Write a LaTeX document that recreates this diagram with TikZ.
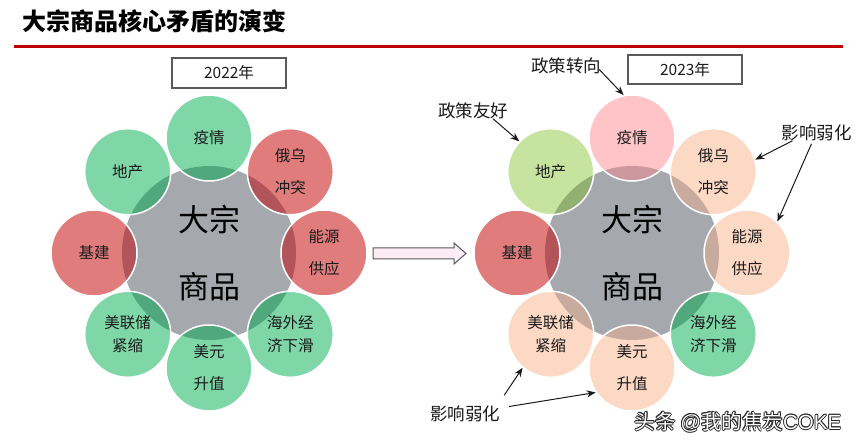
\documentclass[tikz,border=0pt]{standalone}
\usepackage{fontspec}
\newfontfamily\cjk{Noto Sans CJK SC}
\newfontfamily\lib{Liberation Sans}
\usetikzlibrary{calc,arrows.meta}
\definecolor{gA}{RGB}{127,215,168}
\definecolor{gB}{RGB}{80,168,124}
\definecolor{rA}{RGB}{224,124,124}
\definecolor{rB}{RGB}{178,84,90}
\definecolor{pA}{RGB}{252,217,196}
\definecolor{pB}{RGB}{200,170,158}
\definecolor{kA}{RGB}{255,196,200}
\definecolor{kB}{RGB}{204,152,158}
\definecolor{lA}{RGB}{198,228,160}
\definecolor{lB}{RGB}{146,176,114}
\definecolor{corecol}{RGB}{165,168,173}
\definecolor{txt}{RGB}{26,26,26}
\definecolor{boxline}{RGB}{90,90,90}
\definecolor{titlered}{RGB}{192,0,0}
\definecolor{arrowfill}{RGB}{252,236,246}
\begin{document}
\begin{tikzpicture}[x=1pt,y=-1pt,
  bubble/.style n args={3}{circle, minimum size=86pt, inner sep=0pt, draw=white, line width=1.5pt, fill=#1,
     path picture={\fill[#2] (#3) circle[radius=87pt];},
     font=\cjk\fontsize{15.5pt}{18pt}\selectfont, text=txt, align=center},
  corebox/.style={circle, fill=corecol, minimum size=174pt, inner sep=0pt, font=\cjk\fontsize{31pt}{37pt}\selectfont, text=black, align=center},
  yearbox/.style={draw=boxline, line width=1.2pt, fill=white, minimum width=114pt, minimum height=30pt, inner sep=0pt, font=\cjk\fontsize{15.5pt}{18pt}\selectfont, text=txt},
  note/.style={inner sep=0pt, font=\cjk\fontsize{17.5pt}{20pt}\selectfont, text=txt},
  pointer/.style={-{Stealth[length=9pt,width=7pt]}, line width=1pt, draw=txt},
  wm/.style={inner sep=0pt, font=\cjk\fontsize{20.5pt}{24pt}\selectfont}
]
\useasboundingbox[fill=white] (0,0) rectangle (865,446);

% title
\node[anchor=west, inner sep=0pt, font=\cjk\bfseries\fontsize{24pt}{28pt}\selectfont, text=black] (title) at (22,21.5) {大宗商品核心矛盾的演变};
\draw[titlered, line width=3pt] (14,46.7) -- (843,46.7);

% year boxes
\node[yearbox] (yearL) at (229,73) {2022年};
\node[yearbox, minimum height=29pt] (yearR) at (685,69.5) {2023年};

% left cycle (2022)
\node[corebox] (coreL) at (209,253) {大宗\\[30pt]商品};
\node[bubble={gA}{gB}{coreL}] (yqL) at (209,138) {疫情};
\node[bubble={rA}{rB}{coreL}] (ewL) at (290.3,171.7) {俄乌\\[14.5pt]冲突};
\node[bubble={rA}{rB}{coreL}] (nyL) at (324,253) {能源\\[14pt]供应};
\node[bubble={gA}{gB}{coreL}] (hwL) at (290.3,334.3) {海外经\\[5pt]济下滑};
\node[bubble={gA}{gB}{coreL}] (myL) at (209,368) {美元\\[14pt]升值};
\node[bubble={gA}{gB}{coreL}] (mlL) at (127.7,334.3) {美联储\\[5pt]紧缩};
\node[bubble={rA}{rB}{coreL}] (jjL) at (94,253) {基建};
\node[bubble={gA}{gB}{coreL}] (dcL) at (127.7,171.7) {地产};

% middle block arrow (shape)
\draw[draw=boxline, fill=arrowfill, line width=1pt, line join=miter]
  (373,248) -- (454,248) -- (454,243) -- (466,253.5) -- (454,264) -- (454,259) -- (373,259) -- cycle;

% right cycle (2023)
\node[corebox] (coreR) at (632,253) {大宗\\[30pt]商品};
\node[bubble={kA}{kB}{coreR}] (yqR) at (632,138) {疫情};
\node[bubble={pA}{pB}{coreR}] (ewR) at (713.3,171.7) {俄乌\\[14.5pt]冲突};
\node[bubble={pA}{pB}{coreR}] (nyR) at (747,253) {能源\\[14pt]供应};
\node[bubble={gA}{gB}{coreR}] (hwR) at (713.3,334.3) {海外经\\[5pt]济下滑};
\node[bubble={pA}{pB}{coreR}] (myR) at (632,368) {美元\\[14pt]升值};
\node[bubble={pA}{pB}{coreR}] (mlR) at (550.7,334.3) {美联储\\[5pt]紧缩};
\node[bubble={rA}{rB}{coreR}] (jjR) at (517,253) {基建};
\node[bubble={lA}{lB}{coreR}] (dcR) at (550.7,171.7) {地产};

% annotations
\node[note] (zczx) at (566,65.5) {政策转向};
\node[note] (zcyh) at (473,110.5) {政策友好};
\node[note] (yxA) at (816.5,132.5) {影响弱化};
\node[note] (yxB) at (465,413.5) {影响弱化};

\draw[pointer] ($(zczx.east)+(-2,4)$) -- (yqR.101);
\draw[pointer] ($(zcyh.south)+(20,0)$) -- (dcR.136);
\draw[pointer] ($(yxA.south)+(-24,0)$) -- (ewR.16);
\draw[pointer] ($(yxA.south)+(-5,3)$) -- (nyR.46);
\draw[pointer] ($(yxB.north east)+(4,-10)$) -- (mlR.230);
\draw[pointer] ($(yxB.east)+(9,-7)$) -- (myR.214);

% watermark
\foreach \dx/\dy [count=\i] in {-0.8/0,0.8/0,0/-0.8,0/0.8,-0.6/-0.6,0.6/0.6,-0.6/0.6,0.6/-0.6}
  \node[wm, text=black!85, xshift=\dx pt, yshift=\dy pt] (wmo\i) at (738,422) {头条 {\lib @}我的焦炭{\lib COKE}};
\node[wm, text=white] (wmark) at (738,422) {头条 {\lib @}我的焦炭{\lib COKE}};
\end{tikzpicture}
\end{document}
